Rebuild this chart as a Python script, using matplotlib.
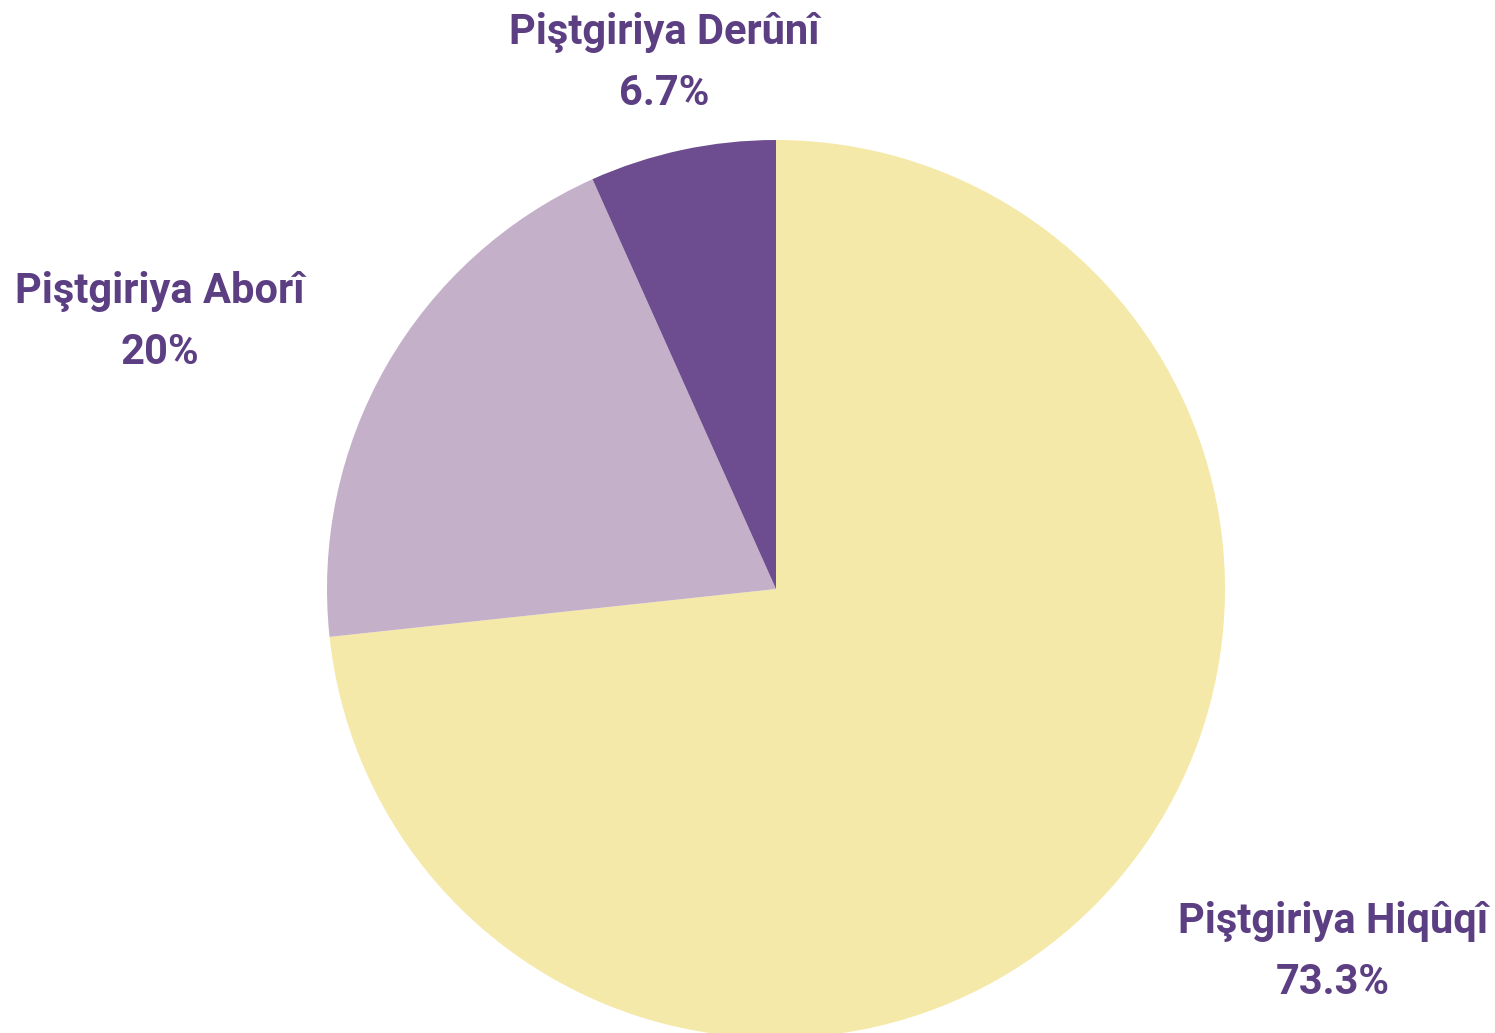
import matplotlib.pyplot as plt

plt.rcParams['font.family'] = ['Roboto', 'DejaVu Sans']

labels = ['Piştgiriya Hiqûqî', 'Piştgiriya Aborî', 'Piştgiriya Derûnî']
values = [73.3, 20, 6.7]
pct_text = ['73.3%', '20%', '6.7%']
colors = ['#f4e9a8', '#c4b0c8', '#6d4d8f']
text_color = '#5c3f82'

# label anchor positions in pixel coordinates (top-left origin)
label_pos = [(1333, 952), (160, 322), (664, 63)]

W, H = 1495, 1033
fig = plt.figure(figsize=(W / 100, H / 100), dpi=100)
ax = fig.add_axes([0, 0, 1, 1])

ax.pie(values, colors=colors, startangle=90, counterclock=False,
       center=(776, H - 589), radius=449, frame=True,
       wedgeprops={'linewidth': 0})
ax.set_xlim(0, W)
ax.set_ylim(0, H)
ax.set_aspect('equal')
ax.axis('off')

for lab, pct, (x, y) in zip(labels, pct_text, label_pos):
    ax.text(x, H - y, lab + '\n' + pct, ha='center', va='center',
            fontsize=30, fontweight='bold', color=text_color,
            linespacing=1.6)

fig.savefig('out.png', dpi=100)
